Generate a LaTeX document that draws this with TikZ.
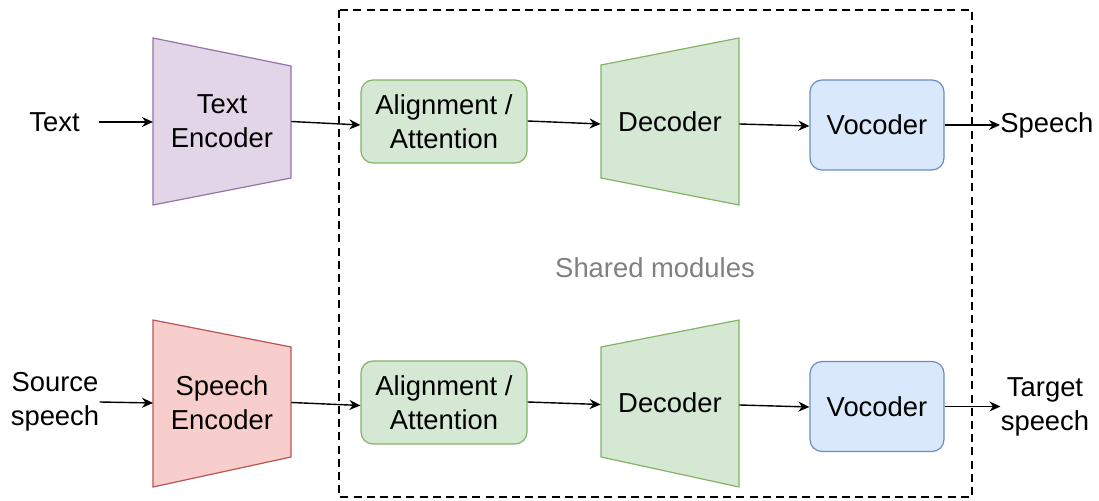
\documentclass[tikz,border=0pt]{standalone}
\usepackage{fontspec}
\setmainfont{Liberation Sans}
\usetikzlibrary{arrows.meta,calc}

\definecolor{purpfill}{HTML}{E1D5E7}
\definecolor{purpline}{HTML}{9673A6}
\definecolor{redfill}{HTML}{F8CECC}
\definecolor{redline}{HTML}{B85450}
\definecolor{greenfill}{HTML}{D5E8D4}
\definecolor{greenline}{HTML}{82B366}
\definecolor{bluefill}{HTML}{DAE8FC}
\definecolor{blueline}{HTML}{6C8EBF}
\definecolor{sharedgray}{HTML}{808080}

\tikzset{
  lbl/.style={font=\fontsize{13.7pt}{17pt}\selectfont, align=center, inner sep=0pt},
  shapebox/.style={lbl, minimum width=69pt, minimum height=83.5pt},
  alignbox/.style={lbl, draw=greenline, fill=greenfill, line width=0.6pt,
    rounded corners=6pt, minimum width=83pt, minimum height=41.5pt},
  vocbox/.style={lbl, draw=blueline, fill=bluefill, line width=0.6pt,
    rounded corners=6pt, minimum width=67pt, minimum height=45pt},
  conn/.style={-{Stealth[length=5.5pt,width=5pt,inset=1.8pt]}, line width=0.7pt},
  trap/.style={line width=0.6pt},
}

\begin{document}
\begin{tikzpicture}[x=0.5pt,y=-0.5pt]
\useasboundingbox (0,0) rectangle (1099,501);

% shared modules frame
\draw[line width=1.4pt, dash pattern=on 4pt off 2.6pt] (339,10) rectangle (972,497);
\node[lbl, text=sharedgray] (shared) at (655,268) {Shared modules};

% ---------- text branch ----------
\draw[trap, draw=purpline, fill=purpfill] (153,38) -- (291,66) -- (291,178) -- (153,205) -- cycle;
\node[shapebox] (te) at (222,121.5) {Text\\Encoder};
\node[alignbox] (al1) at (444,121.5) {Alignment /\\Attention};
\draw[trap, draw=greenline, fill=greenfill] (601,65) -- (739,38) -- (739,205) -- (601,178) -- cycle;
\node[shapebox] (de1) at (670,121.5) {Decoder};
\node[vocbox] (vo1) at (877,125) {Vocoder};

\node[lbl, anchor=east, inner xsep=9.5pt] (txt) at (99,122) {Text};
\node[lbl, anchor=west] (sp) at (1000,125) {Speech};

\draw[conn] (txt.east) -- (153,122);
\draw[conn] (te.east) -- ($(al1.west)+(0,3.5)$);
\draw[conn] ($(al1.east)+(0,-0.5)$) -- ($(de1.west)+(0,2.5)$);
\draw[conn] ($(de1.east)+(0,2.5)$) -- ($(vo1.west)+(0,1)$);
\draw[conn] (vo1.east) -- (sp.west);

% ---------- speech branch ----------
\draw[trap, draw=redline, fill=redfill] (153,320) -- (291,347) -- (291,457) -- (153,487) -- cycle;
\node[shapebox] (se) at (222,402.5) {Speech\\Encoder};
\node[alignbox] (al2) at (444,402.5) {Alignment /\\Attention};
\draw[trap, draw=greenline, fill=greenfill] (601,347) -- (739,320) -- (739,487) -- (601,457) -- cycle;
\node[shapebox] (de2) at (670,402.5) {Decoder};
\node[vocbox] (vo2) at (877,406.5) {Vocoder};

\node[lbl] (src) at (55,402) {Source\\speech};
\node[lbl] (tgt) at (1045,407) {Target\\speech};

\draw[conn] (src.east) -- (153,403);
\draw[conn] (se.east) -- ($(al2.west)+(0,3)$);
\draw[conn] ($(al2.east)+(0,-0.5)$) -- ($(de2.west)+(0,2)$);
\draw[conn] ($(de2.east)+(0,2.5)$) -- ($(vo2.west)+(0,0.5)$);
\draw[conn] (vo2.east) -- (tgt.west |- vo2.east);
\end{tikzpicture}
\end{document}
